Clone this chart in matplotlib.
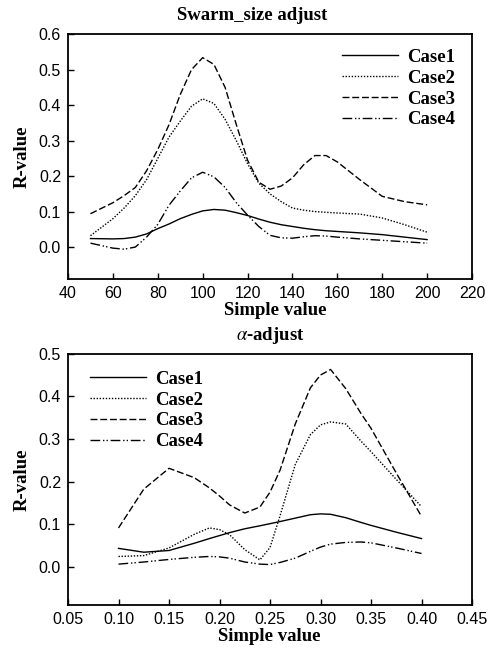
import matplotlib
matplotlib.use('Agg')
import matplotlib.pyplot as plt
import matplotlib.ticker as ticker

# 数据
swarm_x = [50, 60, 65, 70, 75, 80, 85, 90, 95, 100, 105, 110, 115, 120, 125,
           130, 135, 140, 145, 150, 155, 160, 170, 180, 190, 200]
swarm_case1 = [0.024, 0.023, 0.024, 0.028, 0.037, 0.052, 0.065, 0.080, 0.092, 0.102, 0.106, 0.104, 0.097,
               0.089, 0.079, 0.070, 0.063, 0.058, 0.053, 0.049, 0.046, 0.044, 0.040, 0.035, 0.028, 0.021]
swarm_case2 = [0.032, 0.080, 0.110, 0.145, 0.190, 0.250, 0.310, 0.355, 0.397, 0.418, 0.405, 0.360, 0.300,
               0.235, 0.180, 0.150, 0.128, 0.110, 0.104, 0.100, 0.098, 0.096, 0.093, 0.082, 0.063, 0.042]
swarm_case3 = [0.094, 0.125, 0.145, 0.168, 0.215, 0.275, 0.345, 0.430, 0.500, 0.534, 0.515, 0.450, 0.345,
               0.245, 0.183, 0.163, 0.172, 0.195, 0.232, 0.258, 0.258, 0.240, 0.190, 0.143, 0.128, 0.119]
swarm_case4 = [0.011, -0.003, -0.006, 0.000, 0.028, 0.064, 0.118, 0.158, 0.195, 0.211, 0.198, 0.168, 0.125,
               0.090, 0.058, 0.033, 0.026, 0.025, 0.029, 0.032, 0.031, 0.028, 0.023, 0.019, 0.015, 0.011]

alpha_x = [0.10, 0.125, 0.15, 0.175, 0.19, 0.20, 0.21, 0.225, 0.24, 0.25, 0.26,
           0.275, 0.29, 0.30, 0.31, 0.325, 0.34, 0.35, 0.375, 0.40]
alpha_case1 = [0.043, 0.034, 0.038, 0.055, 0.066, 0.073, 0.080, 0.089, 0.096, 0.101, 0.106,
               0.114, 0.122, 0.124, 0.123, 0.115, 0.104, 0.097, 0.081, 0.066]
alpha_case2 = [0.024, 0.026, 0.044, 0.076, 0.091, 0.087, 0.075, 0.040, 0.016, 0.045, 0.120,
               0.240, 0.310, 0.333, 0.340, 0.335, 0.295, 0.270, 0.205, 0.141]
alpha_case3 = [0.091, 0.182, 0.231, 0.209, 0.185, 0.166, 0.145, 0.126, 0.140, 0.175, 0.227,
               0.335, 0.420, 0.450, 0.463, 0.418, 0.360, 0.325, 0.220, 0.118]
alpha_case4 = [0.006, 0.011, 0.017, 0.022, 0.024, 0.023, 0.020, 0.011, 0.006, 0.005, 0.010,
               0.020, 0.036, 0.046, 0.053, 0.057, 0.058, 0.056, 0.044, 0.031]

case_labels = ['Case1', 'Case2', 'Case3', 'Case4']

rcParams = {
    'figure.figsize': [4.99, 6.5],
    'figure.dpi': 100,
    'font.family': 'Liberation Sans',
    'font.size': 11.5,
    'mathtext.fontset': 'stix',
    'axes.linewidth': 1.3,
    'xtick.direction': 'in',
    'ytick.direction': 'in',
    'xtick.major.size': 4,
    'ytick.major.size': 4,
    'xtick.major.width': 1,
    'ytick.major.width': 1,
    'xtick.major.pad': 5,
    'ytick.major.pad': 5,
    'lines.linewidth': 1.0,
    'lines.color': '#000',
}
plt.rcParams.update(rcParams)

serif = {'family': 'Liberation Serif', 'weight': 'bold', 'size': 13.5}
styles = [
    dict(linestyle='-'),
    dict(linestyle=(0, (1, 1.2))),
    dict(linestyle=(0, (5, 2))),
    dict(linestyle=(0, (7, 2, 1, 1.5, 1, 2))),
]

fig = plt.figure()
ax1 = fig.add_axes([0.1363, 0.5708, 0.8096, 0.3765])
ax2 = fig.add_axes([0.1363, 0.0692, 0.8096, 0.3866])


def draw(ax, x, series, title, title_x, xlabel_x, legend_loc, anchor):
    for y, lab, st in zip(series, case_labels, styles):
        ax.plot(x, y, color='black', label=lab, **st)
    ax.set_title(title, fontdict=serif, pad=10, x=title_x)
    ax.set_xlabel('Simple value', fontdict=serif, labelpad=1, x=xlabel_x)
    ax.set_ylabel('R-value', fontdict=serif, labelpad=6)
    ax.legend(loc=legend_loc, bbox_to_anchor=anchor, frameon=False,
              handlelength=3.0, handletextpad=0.5, labelspacing=0.2,
              prop={'family': 'Liberation Serif', 'weight': 'bold', 'size': 13.5})


draw(ax1, swarm_x, [swarm_case1, swarm_case2, swarm_case3, swarm_case4],
     'Swarm_size adjust', 0.455, 0.512, 'upper right', (1.0, 1.01))
ax1.set_xlim(40, 220)
ax1.set_ylim(-0.09, 0.6)
ax1.xaxis.set_major_locator(ticker.MultipleLocator(20))
ax1.yaxis.set_major_locator(ticker.MultipleLocator(0.1))
ax1.yaxis.set_major_formatter(ticker.FormatStrFormatter('%.1f'))

draw(ax2, alpha_x, [alpha_case1, alpha_case2, alpha_case3, alpha_case4],
     r'$\alpha$-adjust', 0.5, 0.497, 'upper left', (0.012, 1.0))
ax2.set_xlim(0.05, 0.45)
ax2.set_ylim(-0.09, 0.5)
ax2.xaxis.set_major_locator(ticker.MultipleLocator(0.05))
ax2.xaxis.set_major_formatter(ticker.FormatStrFormatter('%.2f'))
ax2.yaxis.set_major_locator(ticker.MultipleLocator(0.1))
ax2.yaxis.set_major_formatter(ticker.FormatStrFormatter('%.1f'))

plt.savefig('out.png', dpi=100)
